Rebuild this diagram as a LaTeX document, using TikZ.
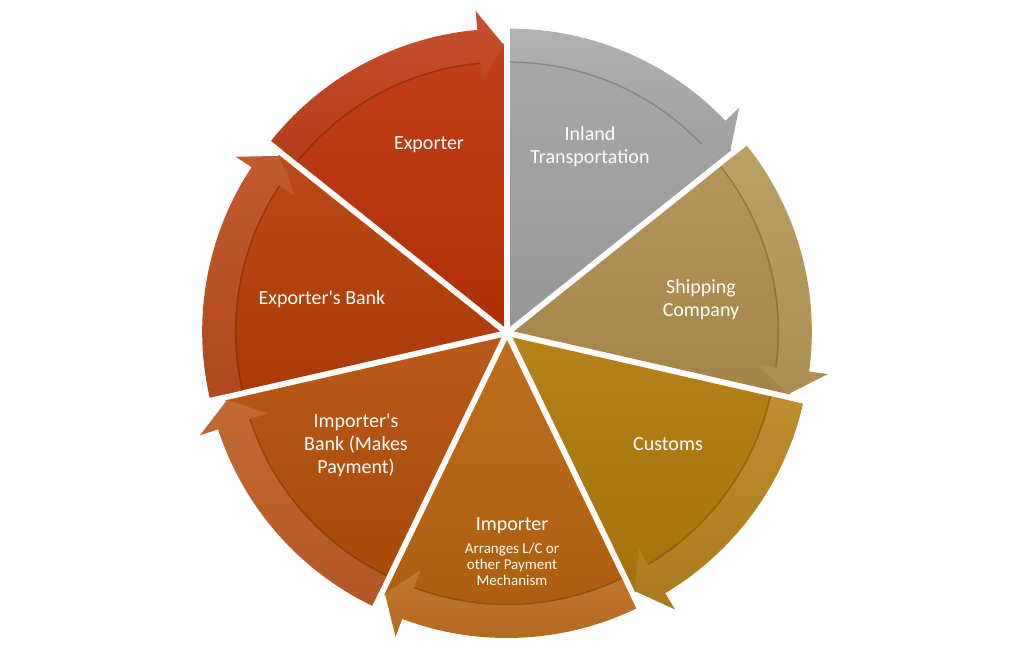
\documentclass[tikz,border=0pt]{standalone}
\usepackage{fontspec}
\setmainfont{Carlito}
\definecolor{expF}{HTML}{BC3208}\definecolor{expB}{HTML}{C2421C}
\definecolor{inlF}{HTML}{A2A2A2}\definecolor{inlB}{HTML}{ABABAB}
\definecolor{shpF}{HTML}{B08E4E}\definecolor{shpB}{HTML}{B89858}
\definecolor{cusF}{HTML}{B07A0A}\definecolor{cusB}{HTML}{B8841E}
\definecolor{impF}{HTML}{B8640E}\definecolor{impB}{HTML}{BE6E20}
\definecolor{ibkF}{HTML}{B44E0A}\definecolor{ibkB}{HTML}{BE5E26}
\definecolor{ebkF}{HTML}{B63E08}\definecolor{ebkB}{HTML}{BE4E20}
\newcommand\segment[3]{%
 \begin{scope}[shift={(507,333)}, shift={({#1-25.7143}:7)}]
  \shade[top color=#2!93!white, bottom color=#2!93!black]
    (0,0) -- (#1:283) arc[start angle=#1, delta angle=-51.4286, radius=283] -- cycle;
  \shade[top color=#3!93!white, bottom color=#3!93!black]
    (#1:265) -- (#1:298) arc[start angle=#1, delta angle=-46.3, radius=298]
    -- ({#1-46.3}:317) -- ({#1-51.4286}:281.5) -- ({#1-46.3}:246)
    -- ({#1-46.3}:265) arc[start angle={#1-46.3}, delta angle=46.3, radius=265] -- cycle;
  \draw[#2!55!black, line width=1.5pt, opacity=0.4]
    (#1:264.5) arc[start angle=#1, delta angle=-46.3, radius=264.5];
 \end{scope}}
\tikzset{lbl/.style={text=white, align=center, font=\fontsize{20}{23}\selectfont},
         sub/.style={text=white, align=center, font=\fontsize{15}{16}\selectfont}}
\begin{document}
\begin{tikzpicture}[x=1pt,y=1pt]
\useasboundingbox (0,0) rectangle (1024,666);
\fill[white] (0,0) rectangle (1024,666);
\segment{141.4286}{expF}{expB}
\segment{90}{inlF}{inlB}
\segment{38.5714}{shpF}{shpB}
\segment{-12.8571}{cusF}{cusB}
\segment{-64.2857}{impF}{impB}
\segment{-115.7143}{ibkF}{ibkB}
\segment{-167.1429}{ebkF}{ebkB}
\node[lbl] (exp) at (429,521) {Exporter};
\node[lbl] (inl) at (590,519) {Inland\\Transportation};
\node[lbl] (shp) at (701,366) {Shipping\\Company};
\node[lbl] (cus) at (668,222) {Customs};
\node[lbl] (imp) at (512,140) {Importer};
\node[sub] (imps) at (512,102) {Arranges L/C or\\other Payment\\Mechanism};
\node[lbl] (ibk) at (356,221) {Importer\textquotesingle s\\Bank (Makes\\Payment)};
\node[lbl] (ebk) at (322,367) {Exporter\textquotesingle s Bank};
\end{tikzpicture}
\end{document}
